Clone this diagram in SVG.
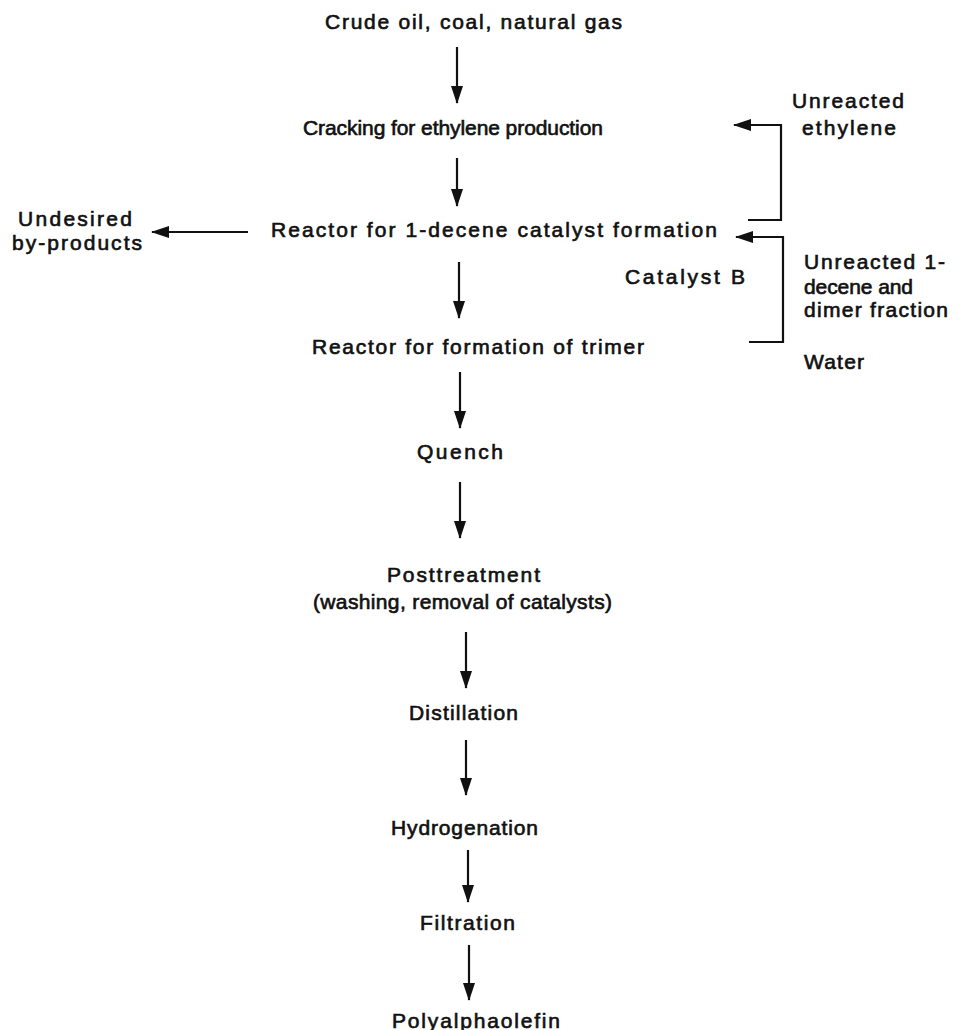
<svg xmlns="http://www.w3.org/2000/svg" width="959" height="1030" viewBox="0 0 959 1030">
<defs>
<style>
text{font-family:"Liberation Sans",Arial,sans-serif;font-size:21px;fill:#111;stroke:#111;stroke-width:0.65;}
.c{stroke:#111;stroke-width:2.2;fill:none;}
</style>
<marker id="ah" viewBox="0 0 18 12" refX="17" refY="6" markerWidth="18" markerHeight="12" markerUnits="userSpaceOnUse" orient="auto">
<path d="M0,0 L18,6 L0,12 Z" fill="#111"/>
</marker>
</defs>
<rect width="959" height="1030" fill="#fff"/>
<g id="connectors">
<line class="c" x1="457" y1="47" x2="457" y2="103" marker-end="url(#ah)"/>
<line class="c" x1="457" y1="158" x2="457" y2="206" marker-end="url(#ah)"/>
<line class="c" x1="248" y1="232" x2="152" y2="232" marker-end="url(#ah)"/>
<polyline class="c" points="748,220 781,220 781,125 734,125" marker-end="url(#ah)"/>
<polyline class="c" points="749,342 783,342 783,237 736,237" marker-end="url(#ah)"/>
<line class="c" x1="459" y1="262" x2="459" y2="318" marker-end="url(#ah)"/>
<line class="c" x1="460" y1="372" x2="460" y2="428" marker-end="url(#ah)"/>
<line class="c" x1="460" y1="482" x2="460" y2="538" marker-end="url(#ah)"/>
<line class="c" x1="466" y1="632" x2="466" y2="688" marker-end="url(#ah)"/>
<line class="c" x1="466" y1="740" x2="466" y2="795" marker-end="url(#ah)"/>
<line class="c" x1="468" y1="850" x2="468" y2="902" marker-end="url(#ah)"/>
<line class="c" x1="469" y1="945" x2="469" y2="1000" marker-end="url(#ah)"/>
</g>
<g id="n-crude"><text x="325" y="29" textLength="297" lengthAdjust="spacing">Crude oil, coal, natural gas</text></g>
<g id="n-cracking"><text x="303" y="135" textLength="300" lengthAdjust="spacing">Cracking for ethylene production</text></g>
<g id="n-reactor1"><text x="271" y="237" textLength="446" lengthAdjust="spacing">Reactor for 1-decene catalyst formation</text></g>
<g id="n-undesired"><text x="18" y="226" textLength="114" lengthAdjust="spacing">Undesired</text><text x="12" y="250" textLength="130" lengthAdjust="spacing">by-products</text></g>
<g id="n-unreacted-ethylene"><text x="792" y="108" textLength="112" lengthAdjust="spacing">Unreacted</text><text x="802" y="135" textLength="94" lengthAdjust="spacing">ethylene</text></g>
<g id="n-catalystb"><text x="625" y="284" textLength="120" lengthAdjust="spacing">Catalyst B</text></g>
<g id="n-unreacted-decene"><text x="804" y="269" textLength="141" lengthAdjust="spacing">Unreacted 1-</text><text x="804" y="294" textLength="109" lengthAdjust="spacing">decene and</text><text x="804" y="317" textLength="144" lengthAdjust="spacing">dimer fraction</text></g>
<g id="n-water"><text x="804" y="369" textLength="60" lengthAdjust="spacing">Water</text></g>
<g id="n-reactor2"><text x="312" y="354" textLength="332" lengthAdjust="spacing">Reactor for formation of trimer</text></g>
<g id="n-quench"><text x="417" y="459" textLength="86" lengthAdjust="spacing">Quench</text></g>
<g id="n-post"><text x="387" y="582" textLength="153" lengthAdjust="spacing">Posttreatment</text><text x="313" y="609" textLength="299" lengthAdjust="spacing">(washing, removal of catalysts)</text></g>
<g id="n-distillation"><text x="409" y="720" textLength="109" lengthAdjust="spacing">Distillation</text></g>
<g id="n-hydrogenation"><text x="391" y="835" textLength="147" lengthAdjust="spacing">Hydrogenation</text></g>
<g id="n-filtration"><text x="420" y="930" textLength="95" lengthAdjust="spacing">Filtration</text></g>
<g id="n-pao"><text x="392" y="1028" textLength="168" lengthAdjust="spacing">Polyalphaolefin</text></g>
</svg>
